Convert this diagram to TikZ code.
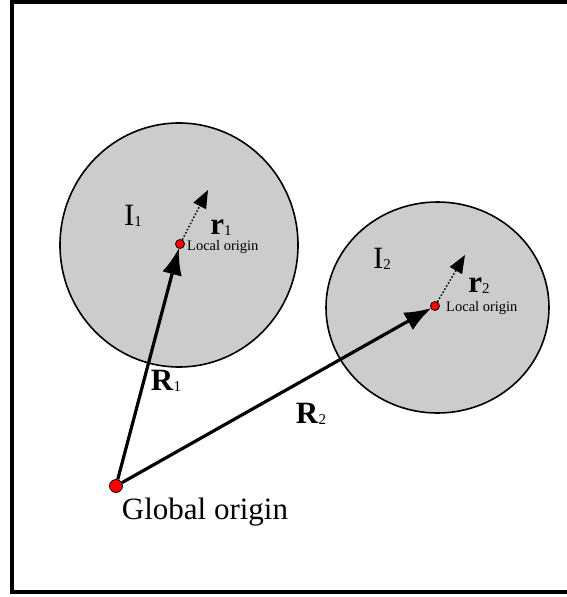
\documentclass[tikz,border=0pt]{standalone}
\usepackage{fontspec}
\setmainfont{Liberation Serif}
\usepackage{tikz}
\usetikzlibrary{arrows.meta}
\definecolor{bodyfill}{RGB}{204,204,204}
\definecolor{origred}{RGB}{255,0,0}
\newcommand{\idx}[1]{\raisebox{-1pt}{\fontsize{15}{15}\selectfont #1}}
\tikzset{
  body/.style={draw=black, line width=1.6pt, fill=bodyfill},
  orig/.style={circle, draw=black, fill=origred, inner sep=0pt, line width=0.8pt},
  Rarr/.style={-{Latex[length=27pt,width=20pt]}, line width=3.2pt, shorten >=-1pt},
  rarr/.style={-{Triangle[length=18pt,width=14pt]}, dotted, line width=1.5pt},
  big/.style={font=\fontsize{31}{33}\selectfont, inner sep=0pt},
  small/.style={font=\fontsize{14.5}{15}\selectfont, inner sep=0pt}
}
\begin{document}
\begin{tikzpicture}[x=1pt,y={(0,-1pt)}]
  \useasboundingbox (0,0) rectangle (566,597);
  \draw[line width=4pt] (12,2) rectangle (590,592);

  % Bodies
  \draw[body] (179,245) ellipse [x radius=119, y radius=122];
  \draw[body] (437.5,307.5) ellipse [x radius=111.5, y radius=105.5];

  % Origins
  \node[orig, minimum size=13pt] (gorig) at (116,486) {};
  \node[orig, minimum size=9pt] (lorig1) at (180,244) {};
  \node[orig, minimum size=9pt] (lorig2) at (435,306) {};
  \coordinate (tip1) at (208,190);
  \coordinate (tip2) at (465,255);

  \draw[Rarr] (gorig) -- (lorig1);
  \draw[Rarr] (gorig) -- (lorig2);
  \draw[rarr] (lorig1) -- (tip1);
  \draw[rarr] (lorig2) -- (tip2);

  % Labels
  \node[big] (lblI1) at (133,216) {I\idx{1}};
  \node[big] (lblI2) at (382,259) {I\idx{2}};
  \node[big] (lblr1) at (221,228) {\textbf{r}\idx{1}};
  \node[big] (lblr2) at (479,286) {\textbf{r}\idx{2}};
  \node[small, anchor=west] (loc1) at (187,247) {Local origin};
  \node[small, anchor=west] (loc2) at (446,308) {Local origin};
  \node[big] (lblR1) at (166,381) {\textbf{R}\idx{1}};
  \node[big] (lblR2) at (311,414) {\textbf{R}\idx{2}};
  \node[big] (glob) at (205,512) {Global origin};
\end{tikzpicture}
\end{document}
